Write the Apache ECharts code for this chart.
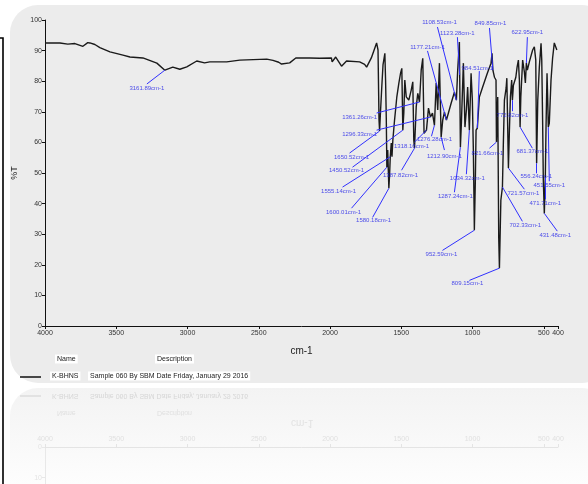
<!DOCTYPE html>
<html>
<head>
<meta charset="utf-8">
<script src="https://cdn.jsdelivr.net/npm/echarts@6/dist/echarts.min.js"></script>
<style>
  html, body { margin: 0; padding: 0; background: #fff; }
  #chart { width: 588px; height: 484px; }
</style>
</head>
<body>
<div id="chart"></div>
<script>
// spectrum, wavenumber (cm-1) and %T
const wavenumbers = [
  4000, 3895, 3840, 3790, 3734, 3700, 3685, 3650, 3615, 3544, 3453, 3404, 3313, 3215, 3159, 3103, 3054, 3005, 2935, 2880,
  2844, 2725, 2633, 2444, 2400, 2360, 2340, 2283, 2240, 2143, 2073, 1990, 1985, 1960, 1919, 1884, 1792, 1757, 1743, 1710,
  1673, 1663, 1656, 1652, 1645, 1636, 1628, 1615, 1610, 1605, 1601, 1595, 1587, 1582, 1577, 1570, 1565, 1559, 1547, 1540,
  1531, 1517, 1505, 1496, 1489, 1482, 1475, 1465, 1447, 1430, 1419, 1412, 1407, 1395, 1384, 1372, 1360, 1349, 1340, 1323,
  1309, 1295, 1281, 1267, 1255, 1244, 1232, 1220, 1209, 1197, 1183, 1169, 1150, 1127, 1113, 1104, 1092, 1085, 1078, 1064,
  1053, 1043, 1034, 1022, 1010, 1001, 994, 987, 980, 975, 966, 952, 931, 896, 870, 863, 857, 846, 835, 832,
  823, 816, 811, 801, 790, 783, 776, 764, 759, 753, 748, 741, 734, 725, 720, 713, 704, 696, 687, 678,
  671, 666, 661, 648, 636, 629, 622, 615, 601, 578, 566, 556, 550, 542, 531, 519, 514, 508, 503, 496,
  489, 484, 477, 472, 468, 461, 449, 438, 426, 412, 408
];
const transmittance = [
  92.5, 92.5, 92.1, 92.3, 91.4, 92.6, 92.5, 92.0, 91.0, 89.6, 88.5, 87.9, 87.6, 85.9, 83.6, 84.6, 83.9, 84.7, 86.6, 86.0,
  86.3, 86.3, 86.9, 87.2, 86.8, 86.2, 85.6, 86.0, 87.6, 87.6, 87.5, 87.6, 86.3, 87.9, 84.9, 86.6, 86.3, 85.5, 84.6, 87.6,
  92.5, 90.2, 67.3, 63.7, 70.6, 78.7, 85.3, 89.1, 80.4, 67.9, 51.9, 57.5, 45.0, 49.3, 55.3, 59.8, 55.3, 60.7, 67.3, 70.6,
  74.9, 79.3, 82.6, 84.2, 64.0, 69.6, 80.4, 74.9, 73.8, 77.1, 79.8, 60.7, 58.1, 71.6, 76.0, 73.2, 83.6, 87.5, 63.0, 64.0,
  71.2, 68.3, 69.6, 65.6, 79.4, 70.6, 85.9, 61.7, 67.3, 69.9, 67.3, 69.6, 72.8, 76.4, 73.8, 83.6, 92.8, 58.4, 66.3, 85.9,
  65.0, 70.6, 78.1, 64.0, 82.6, 73.8, 57.5, 31.3, 47.6, 64.0, 64.7, 74.8, 77.8, 82.6, 85.9, 89.1, 83.6, 81.3, 80.4, 60.1,
  74.8, 29.0, 18.9, 41.1, 45.4, 60.7, 73.8, 77.8, 81.0, 81.3, 51.6, 64.0, 74.8, 80.4, 73.8, 78.7, 78.1, 81.3, 84.6, 86.9,
  80.4, 65.0, 74.8, 86.9, 83.0, 79.4, 85.9, 83.6, 86.3, 90.2, 91.2, 86.9, 53.2, 73.8, 84.6, 92.4, 86.9, 67.3, 47.6, 36.8,
  48.6, 65.0, 82.6, 73.8, 65.0, 66.3, 80.4, 87.5, 92.5, 92.5, 90.2
];

// picked peaks: label text and the point on the curve
const peakLabels = [
  '3161.89cm-1', '1361.26cm-1', '1296.33cm-1', '1650.52cm-1', '1450.52cm-1', '1555.14cm-1', '1600.01cm-1', '1580.18cm-1',
  '1387.82cm-1', '1318.16cm-1', '1276.28cm-1', '1212.90cm-1', '1287.24cm-1', '1034.32cm-1', '821.66cm-1', '1108.53cm-1',
  '1123.28cm-1', '1177.21cm-1', '849.85cm-1', '622.95cm-1', '984.51cm-1', '772.82cm-1', '681.37cm-1', '721.57cm-1',
  '702.33cm-1', '809.15cm-1', '952.59cm-1', '556.24cm-1', '451.55cm-1', '471.71cm-1', '431.48cm-1'
];
const peakWn = [
  3159, 1372, 1295, 1652, 1489, 1577, 1601, 1587, 1407, 1323, 1267, 1220, 1085, 1022, 832, 1113,
  1090, 1183, 857, 622, 966, 720, 666, 748, 790, 811, 987, 550, 468, 489, 496
];
const peakT = [
  83.6, 73.2, 68.3, 63.7, 64.0, 55.3, 51.9, 45.0, 58.1, 64.0, 65.6, 61.7, 58.4, 64.0, 60.1, 73.8,
  82.0, 67.3, 83.6, 85.9, 64.7, 73.8, 65.0, 51.6, 45.4, 18.9, 31.3, 53.2, 65.0, 48.6, 36.8
];

const xTicks = [4000, 3500, 3000, 2500, 2000, 1500, 1000, 500, 400];

// where each tag sits: [leader end wn, leader end %T, text wn, text %T]
const tagLayout = [
  [3285, 79.1, 3285, 77.7], [1673, 69.6, 1792, 68.3], [1673, 64.0, 1792, 62.7], [1863, 56.5, 1849, 55.2],
  [1842, 51.9, 1884, 50.9], [1912, 45.4, 1940, 44.0], [1849, 38.5, 1905, 37.2], [1701, 35.5, 1694, 34.6],
  [1498, 50.9, 1505, 49.3], [1407, 60.1, 1428, 58.8], [1288, 62.0, 1267, 61.1], [1197, 57.5, 1197, 55.5],
  [1127, 43.7, 1120, 42.4], [1043, 49.6, 1036, 48.3], [881, 58.1, 895, 56.5], [1246, 97.7, 1232, 99.3],
  [1106, 94.4, 1106, 95.7], [1316, 89.9, 1316, 91.2], [881, 97.4, 874, 99.0], [615, 94.4, 615, 96.1],
  [952, 83.3, 966, 84.3], [720, 70.2, 720, 68.9], [580, 58.1, 580, 57.1], [636, 44.7, 643, 43.4],
  [650, 34.2, 629, 32.9], [1022, 14.9, 1036, 13.9], [1211, 24.7, 1218, 23.4], [552, 49.9, 552, 49.0],
  [461, 47.3, 461, 46.0], [489, 41.4, 489, 40.1], [405, 31.0, 419, 29.7]
];

const FONT = 'Liberation Sans, Arial, sans-serif';
const BLUE = '#3030ff';

const chart = echarts.init(document.getElementById('chart'));

const spectrum = wavenumbers.map((w, i) => [w, transmittance[i]]);
const leaders = peakLabels.map((name, i) => ({
  coords: [[peakWn[i], peakT[i]], [tagLayout[i][0], tagLayout[i][1]]]
}));
const tags = peakLabels.map((name, i) => ({ name: name, value: [tagLayout[i][2], tagLayout[i][3]] }));
const plain = v => String(v);

function mirrorText(x, y, text, color, size) {
  return {
    type: 'text', x: x, y: y, scaleY: -1, silent: true, z: -5,
    style: { text: text, x: 0, y: 0, fill: color, font: size + 'px ' + FONT, verticalAlign: 'middle' }
  };
}

const option = {
  animation: false,
  backgroundColor: '#fff',
  textStyle: { fontFamily: FONT },
  grid: [
    { left: 45, right: 30, top: 20, height: 306 },
    { left: 45, right: 30, top: 447, height: 36.7 }
  ],
  xAxis: [
    {
      type: 'value', gridIndex: 0, min: 400, max: 4000, inverse: true,
      axisLine: { lineStyle: { color: '#111', width: 1 } },
      axisTick: { length: 3, customValues: xTicks, lineStyle: { color: '#111' } },
      axisLabel: { customValues: xTicks, formatter: plain, fontSize: 7, color: '#333', margin: 4, hideOverlap: false },
      splitLine: { show: false },
      name: 'cm-1', nameLocation: 'middle', nameGap: 20,
      nameTextStyle: { fontSize: 10, color: '#222' }
    },
    {
      type: 'value', gridIndex: 1, min: 400, max: 4000, inverse: true, position: 'top',
      axisLine: { lineStyle: { color: '#e4e4e4', width: 1 } },
      axisTick: { length: 3, customValues: xTicks, lineStyle: { color: '#e4e4e4' } },
      axisLabel: { customValues: xTicks, formatter: plain, fontSize: 7, color: '#e0e0e0', margin: 4 },
      splitLine: { show: false }
    }
  ],
  yAxis: [
    {
      type: 'value', gridIndex: 0, min: 0, max: 100, interval: 10,
      axisLine: { show: true, lineStyle: { color: '#111', width: 1 } },
      axisTick: { show: true, length: 3, lineStyle: { color: '#111' } },
      axisLabel: { fontSize: 7, color: '#333', margin: 3 },
      splitLine: { show: false },
      name: '%T', nameLocation: 'middle', nameGap: 22, nameRotate: 90,
      nameTextStyle: { fontSize: 9, color: '#222' }
    },
    {
      type: 'value', gridIndex: 1, min: 0, max: 12, interval: 10, inverse: true,
      axisLine: { show: true, lineStyle: { color: '#e8e8e8', width: 1 } },
      axisTick: { show: true, length: 3, lineStyle: { color: '#e8e8e8' } },
      axisLabel: { fontSize: 7, color: '#e4e4e4', margin: 3 },
      splitLine: { show: false }
    }
  ],
  graphic: [
    // rounded grey panel behind the plot
    { type: 'rect', z: -10, silent: true, shape: { x: 10, y: 5, width: 600, height: 378, r: 28 }, style: { fill: '#ececec' } },
    // faded reflection of the panel
    {
      type: 'rect', z: -10, silent: true, shape: { x: 10, y: 388, width: 600, height: 96, r: [28, 28, 0, 0] },
      style: {
        fill: new echarts.graphic.LinearGradient(0, 0, 0, 1, [
          { offset: 0, color: '#f3f3f3' }, { offset: 1, color: '#fdfdfd' }
        ])
      }
    },
    // black frame at the left edge
    { type: 'polyline', silent: true, shape: { points: [[0, 38], [3, 38], [3, 484]] }, style: { stroke: '#000', lineWidth: 1.6, fill: null } },
    // legend table
    { type: 'text', x: 55, y: 359, style: { text: 'Name', fill: '#222', font: '7px ' + FONT, verticalAlign: 'middle', backgroundColor: '#fff', padding: [1, 2] } },
    { type: 'text', x: 155, y: 359, style: { text: 'Description', fill: '#222', font: '7px ' + FONT, verticalAlign: 'middle', backgroundColor: '#fff', padding: [1, 2] } },
    { type: 'line', shape: { x1: 20, y1: 377, x2: 41, y2: 377 }, style: { stroke: '#111', lineWidth: 1.5 } },
    { type: 'text', x: 50, y: 376, style: { text: 'K-BHNS', fill: '#222', font: '7px ' + FONT, verticalAlign: 'middle', backgroundColor: '#fff', padding: [1, 2] } },
    { type: 'text', x: 88, y: 376, style: { text: 'Sample 060 By SBM Date Friday, January 29 2016', fill: '#222', font: '7px ' + FONT, verticalAlign: 'middle', backgroundColor: '#fff', padding: [1, 2] } },
    // mirrored legend / title in the reflection
    { type: 'line', z: -5, shape: { x1: 20, y1: 396, x2: 41, y2: 396 }, style: { stroke: '#dcdcdc', lineWidth: 1.5 } },
    mirrorText(52, 396, 'K-BHNS', '#d6d6d6', 7),
    mirrorText(90, 396, 'Sample 060 By SBM Date Friday, January 29 2016', '#d6d6d6', 7),
    mirrorText(57, 413, 'Name', '#e0e0e0', 7),
    mirrorText(157, 413, 'Description', '#e0e0e0', 7),
    mirrorText(291, 423, 'cm-1', '#e2e2e2', 10)
  ],
  series: [
    {
      type: 'line', xAxisIndex: 0, yAxisIndex: 0, data: spectrum,
      showSymbol: false, symbol: 'none',
      lineStyle: { color: '#1a1a1a', width: 1.4 },
      z: 3
    },
    {
      type: 'lines', coordinateSystem: 'cartesian2d', xAxisIndex: 0, yAxisIndex: 0,
      data: leaders, symbol: 'none',
      lineStyle: { color: BLUE, width: 1, opacity: 1 },
      z: 4
    },
    {
      type: 'scatter', xAxisIndex: 0, yAxisIndex: 0, data: tags,
      symbolSize: 1, itemStyle: { color: 'transparent' }, clip: false,
      label: {
        show: true, position: 'inside', formatter: '{b}',
        fontSize: 6, color: '#2020e8', fontFamily: FONT
      },
      z: 5
    }
  ]
};

chart.setOption(option);
</script>
</body>
</html>
